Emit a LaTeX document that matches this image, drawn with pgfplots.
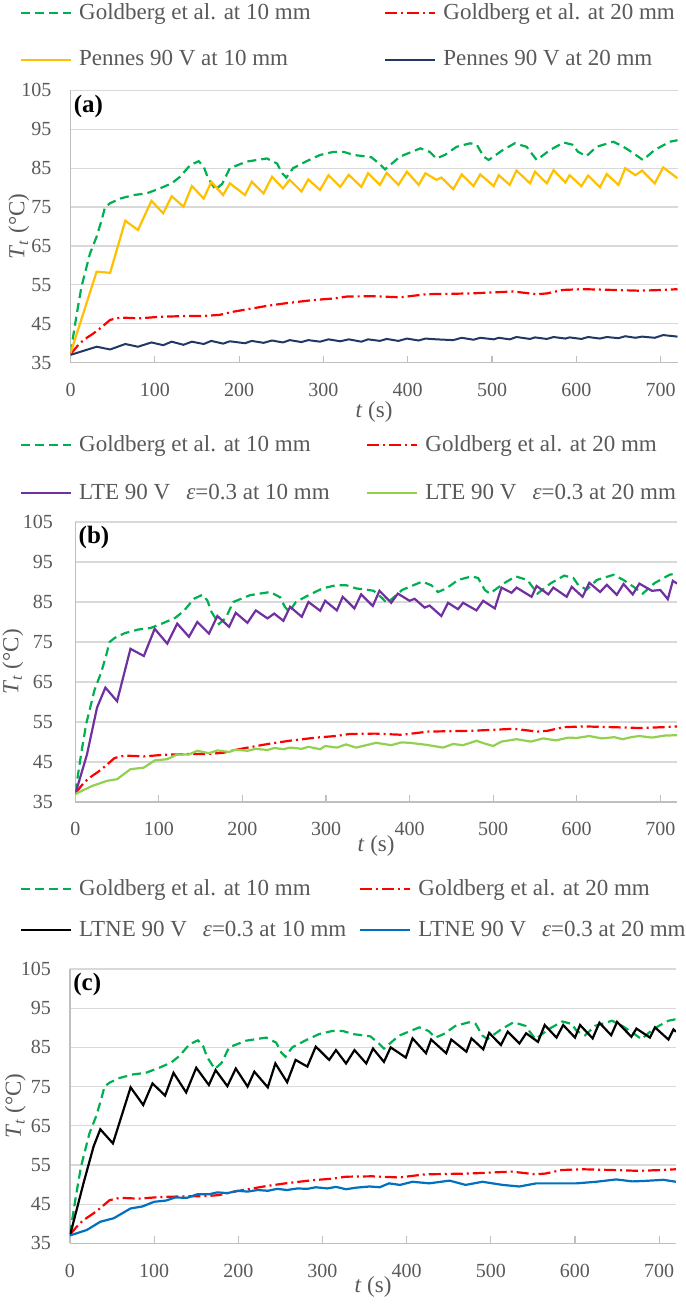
\documentclass[border=0pt]{standalone}
\usepackage{pgfplots}
\pgfplotsset{compat=1.18}
\usepackage{pgfplotstable}
\usepackage{fontspec}
\setmainfont{Liberation Serif}
\definecolor{textgray}{HTML}{595959}
\definecolor{gridgray}{HTML}{D9D9D9}
\definecolor{axisgray}{HTML}{BFBFBF}
\definecolor{cgreen}{HTML}{00B050}
\definecolor{cred}{HTML}{FF0000}
\definecolor{corange}{HTML}{FFC000}
\definecolor{cnavy}{HTML}{1F3864}
\definecolor{cpurple}{HTML}{7030A0}
\definecolor{clgreen}{HTML}{92D050}
\definecolor{cblue}{HTML}{0070C0}

\pgfplotstableread{
t T
0 37.4
7 47
13 54.5
23 63
31 67.4
37 71.7
41 75
47 76
59 77.2
75 78.1
90 78.5
106 79.8
120 81.1
130 82.8
142 85.8
152 86.8
158 85.4
163 82.5
172 79.5
180 81
189 85
209 86.7
233 87.5
245 86.2
251 83.7
256 82.6
264 85
280 86.8
296 88.4
312 89.2
324 89.2
336 88.4
351 88
357 87.8
367 86
373 84.7
391 88
415 90.1
426 89.2
434 87.5
444 88.4
458 90.5
474 91.4
482 91
490 88
496 87.1
513 89.7
527 91.4
541 90.5
547 88.8
553 87.1
569 89.7
585 91.6
596 91
602 89.2
612 88.1
624 90.5
644 91.8
656 90.5
668 88.8
679 87.1
693 89.7
711 91.8
720 92.2
}\goldA

\pgfplotstableread{
t T
0 37.2
11 40
20 41.5
27 42.5
35 43.8
47 46
59 46.6
82 46.4
106 46.8
138 47
158 47
177 47.3
193 48.1
217 49
233 49.6
256 50.3
288 51.1
312 51.5
328 52
359 52.1
391 51.8
422 52.6
474 52.8
525 53.3
553 52.6
565 52.8
584 53.7
608 53.9
644 53.7
675 53.5
703 53.7
720 53.9
}\goldB

\pgfplotsset{
  base/.style={
    scale only axis, xmin=0, xmax=720, ymin=35, ymax=105,
    xtick={0,100,...,700}, ytick={35,45,...,105},
    ymajorgrids, grid style={draw=gridgray, line width=0.6pt},
    axis lines*=left, axis line style={draw=axisgray, line width=0.7pt},
    xtick align=inside, major tick length=3.5pt,
    x tick style={draw=axisgray, line width=0.6pt}, y tick style={draw=none},
    tick label style={font=\fontsize{10}{12}\selectfont, text=textgray},
    /pgf/number format/assume math mode=true,
    xticklabel style={yshift=-6.8pt},
    label style={font=\fontsize{11.5}{13}\selectfont, text=textgray},
    xlabel={\textit{t} (s)},
    ylabel={\textit{T}\textsubscript{\textit{t}} (°C)},
    legend columns=2, legend cell align=left,
    legend image code/.code={\draw[##1] (0pt,0pt) -- (25pt,0pt);},
    legend style={draw=none, fill=none, inner sep=0pt, outer sep=0pt,
      anchor=north west, at={(0,1)}, font=\fontsize{11.5}{13}\selectfont,
      nodes={inner sep=0pt, text height=8.5pt, text depth=2.5pt, text=textgray},
      /tikz/every odd column/.style={column sep=3.5pt}},
  },
  gold10/.style={cgreen, line width=1.1pt, dash pattern=on 4.5pt off 2.5pt},
  gold20/.style={cred, line width=1.1pt, dash pattern=on 6pt off 2pt on 1pt off 2pt},
  sol/.style={line width=1.1pt},
}

\begin{document}
\begin{tikzpicture}
\path[use as bounding box] (0,0) rectangle (342.5pt,-652pt);

% ---------------- (a)
\begin{axis}[base, at={(35.25pt,-45.2pt)}, anchor=north west,
  width=303.5pt, height=136.15pt,
  y label style={at={(axis description cs:-0.085,0.5)}, anchor=center},
  x label style={at={(axis description cs:0.5,0)}, anchor=center, yshift=-24.5pt},
  yticklabel style={xshift=-6pt},
  legend style={xshift=-25.25pt, yshift=44pt, row sep=12.3pt}]
\addplot[gold10] table {\goldA};
\addlegendentry{\makebox[152.5pt][l]{Goldberg et al. at 10 mm}}
\addplot[gold20] table {\goldB};
\addlegendentry{Goldberg et al. at 20 mm}
\addplot[corange, sol] table {
0 37.4
31 58.4
47 58.1
65 71.5
80 69.1
96 76.6
110 73.4
120 77.8
134 75.1
144 80.4
158 77.2
167 81.5
181 78.1
189 81.1
207 78.1
215 81.5
229 78.5
239 82.8
252 79.8
260 82
274 79
282 82.1
296 79.4
306 83.2
320 80.2
330 83.3
345 80.2
353 83.7
367 80.7
375 83.8
389 80.7
399 84.1
413 80.7
421 83.7
434 82
440 82.6
454 79.6
464 83.4
478 80.4
486 83.4
502 80.4
508 83.2
521 80.7
529 84.4
545 81.1
551 84.1
565 81.1
573 84.5
587 81.3
592 83.2
606 80.4
614 83.1
628 80.1
636 83.5
650 80.7
658 85
670 83.2
678 84.4
693 81.1
703 85.2
720 82.4
};
\addlegendentry{Pennes 90 V at 10 mm}
\addplot[cnavy, line width=1pt] table {
0 37
31 39.1
47 38.4
65 39.8
80 39.1
96 40.2
110 39.5
120 40.4
134 39.6
144 40.4
158 39.8
167 40.6
181 39.9
189 40.5
207 40
215 40.6
229 40.1
239 40.7
252 40.2
260 40.8
274 40.3
282 40.8
296 40.4
306 41
320 40.5
330 41
345 40.4
353 41
367 40.6
375 41.1
389 40.6
399 41.2
413 40.7
421 41.2
434 41
454 40.8
464 41.4
478 40.9
486 41.4
502 41
508 41.4
521 41
529 41.6
545 41.1
551 41.5
565 41.1
573 41.6
587 41.2
592 41.5
606 41.1
614 41.6
628 41.2
636 41.6
650 41.3
658 41.8
670 41.4
678 41.7
693 41.4
703 42.1
720 41.7
};
\addlegendentry{Pennes 90 V at 20 mm}
\node[anchor=north west, inner sep=0pt, font=\bfseries\fontsize{12.5}{14}\selectfont] at (rel axis cs:0,1) [xshift=1.5pt, yshift=-2pt] {(a)};
\end{axis}

% ---------------- (b)
\begin{axis}[base, at={(37.65pt,-261pt)}, anchor=north west,
  width=300.85pt, height=140pt,
  y label style={at={(axis description cs:-0.104,0.5)}, anchor=center},
  x label style={at={(axis description cs:0.5,0)}, anchor=center, yshift=-22pt},
  yticklabel style={xshift=-7.7pt},
  legend style={xshift=-27.65pt, yshift=44pt, row sep=13pt}]
\addplot[gold10] table {\goldA};
\addlegendentry{\makebox[143.5pt][l]{Goldberg et al. at 10 mm}}
\addplot[gold20] table {\goldB};
\addlegendentry{Goldberg et al. at 20 mm}
\addplot[cpurple, sol] table {
0 37
14 46.9
26 58.6
36 63.6
50 60.2
66 73.3
82 71.5
95 78.3
110 74.6
122 79.6
136 76.3
146 80
160 77.1
170 81.5
184 78.8
192 82.3
206 79.8
216 82.9
230 80.9
238 82.1
249 80.3
257 83.8
271 81.3
279 85
293 82.8
299 85.3
313 82.9
320 86.3
334 83.4
342 86.9
356 84
364 87.8
378 84.8
386 87.1
400 85.3
406 85.8
418 83.6
424 84.1
438 81.5
446 84.8
458 83.2
464 84.8
480 82.9
488 85.3
502 83.4
510 88.6
522 87.3
528 88.6
546 86.3
552 89
566 86.9
572 88.6
588 86.3
594 88.8
607 86.3
615 89.8
628 87.5
636 89.3
648 86.8
656 89.5
667 86.9
675 89.6
690 87.8
700 88
709 85.7
715 90.3
720 89.6
};
\addlegendentry{\makebox[143.5pt][l]{LTE 90 V\hspace{8pt}\textit{ε}=0.3 at 10 mm}}
\addplot[clgreen, sol] table {
0 37
10 38
20 39
38 40.3
50 40.7
66 43.2
82 43.6
95 45.4
110 45.7
122 46.9
136 46.9
146 47.8
160 47.2
170 47.9
184 47.5
192 48.1
206 47.8
216 48.3
230 48
238 48.5
249 48.2
257 48.6
271 48.3
279 48.8
293 48.2
299 49
313 48.6
324 49.4
336 48.6
350 49.3
360 49.8
378 49.2
390 49.9
400 49.8
420 49.3
440 48.6
452 49.5
464 49.2
480 50.3
490 49.6
500 49
510 50.1
528 50.7
545 50.1
560 50.9
575 50.4
590 51.1
600 51
615 51.5
630 50.9
645 51.2
655 50.7
665 51.2
675 51.5
690 51.1
705 51.6
720 51.7
};
\addlegendentry{LTE 90 V\hspace{8pt}\textit{ε}=0.3 at 20 mm}
\node[anchor=north west, inner sep=0pt, font=\bfseries\fontsize{12.5}{14}\selectfont] at (rel axis cs:0,1) [xshift=1.5pt, yshift=-2pt] {(b)};
\end{axis}

% ---------------- (c)
\begin{axis}[base, at={(35pt,-484.5pt)}, anchor=north west,
  width=303pt, height=137.15pt,
  y label style={at={(axis description cs:-0.09,0.5)}, anchor=center},
  x label style={at={(axis description cs:0.5,0)}, anchor=center, yshift=-22pt},
  yticklabel style={xshift=-6pt},
  legend style={xshift=-25pt, yshift=45.5pt, row sep=9.5pt}]
\addplot[gold10] table {\goldA};
\addlegendentry{\makebox[140pt][l]{Goldberg et al. at 10 mm}}
\addplot[gold20] table {\goldB};
\addlegendentry{Goldberg et al. at 20 mm}
\addplot[black, sol] table {
0 37
16 50.3
28 59.7
36 64.1
51 60.5
72 74.8
87 70.3
98 75.8
113 72.7
123 78.5
138 73.5
150 79.8
165 75.4
173 79.2
187 75.1
197 79.6
211 75
219 78.8
235 74.8
244 80.9
258 76.1
268 81.8
282 80.1
292 85.2
308 81.8
316 84.3
328 80.9
338 84.3
352 80.9
360 84.7
373 81.3
381 85
399 82.4
407 87.3
423 83.5
429 87
447 83.5
453 87
471 83.9
477 87.3
491 84.5
498 88.7
512 85.6
520 89
534 86
542 88.6
556 86.4
564 90.7
578 87.5
586 90.7
600 87.5
606 90.7
621 87.3
629 91.3
643 88.1
650 91.5
667 87.7
673 89.8
689 87.5
695 90.1
711 87
717 89.6
720 89
};
\addlegendentry{\makebox[140pt][l]{LTNE 90 V\hspace{8pt}\textit{ε}=0.3 at 10 mm}}
\addplot[cblue, sol] table {
0 37
20 38.4
36 40.5
52 41.4
72 43.9
86 44.4
100 45.6
114 45.9
125 46.7
139 46.6
151 47.5
165 47.5
175 48
187 47.8
199 48.4
211 48.2
223 48.6
235 48.4
246 48.9
258 48.6
270 49
282 48.9
292 49.3
306 49
316 49.4
328 48.8
340 49.2
356 49.5
368 49.3
379 50.3
392 49.9
407 50.7
427 50.3
451 51
470 49.9
490 50.7
514 49.9
534 49.5
554 50.3
578 50.3
602 50.3
625 50.7
649 51.3
668 50.8
681 50.9
705 51.2
720 50.7
};
\addlegendentry{LTNE 90 V\hspace{8pt}\textit{ε}=0.3 at 20 mm}
\node[anchor=north west, inner sep=0pt, font=\bfseries\fontsize{12.5}{14}\selectfont] at (rel axis cs:0,1) [xshift=1.5pt, yshift=-2pt] {(c)};
\end{axis}
\end{tikzpicture}
\end{document}
